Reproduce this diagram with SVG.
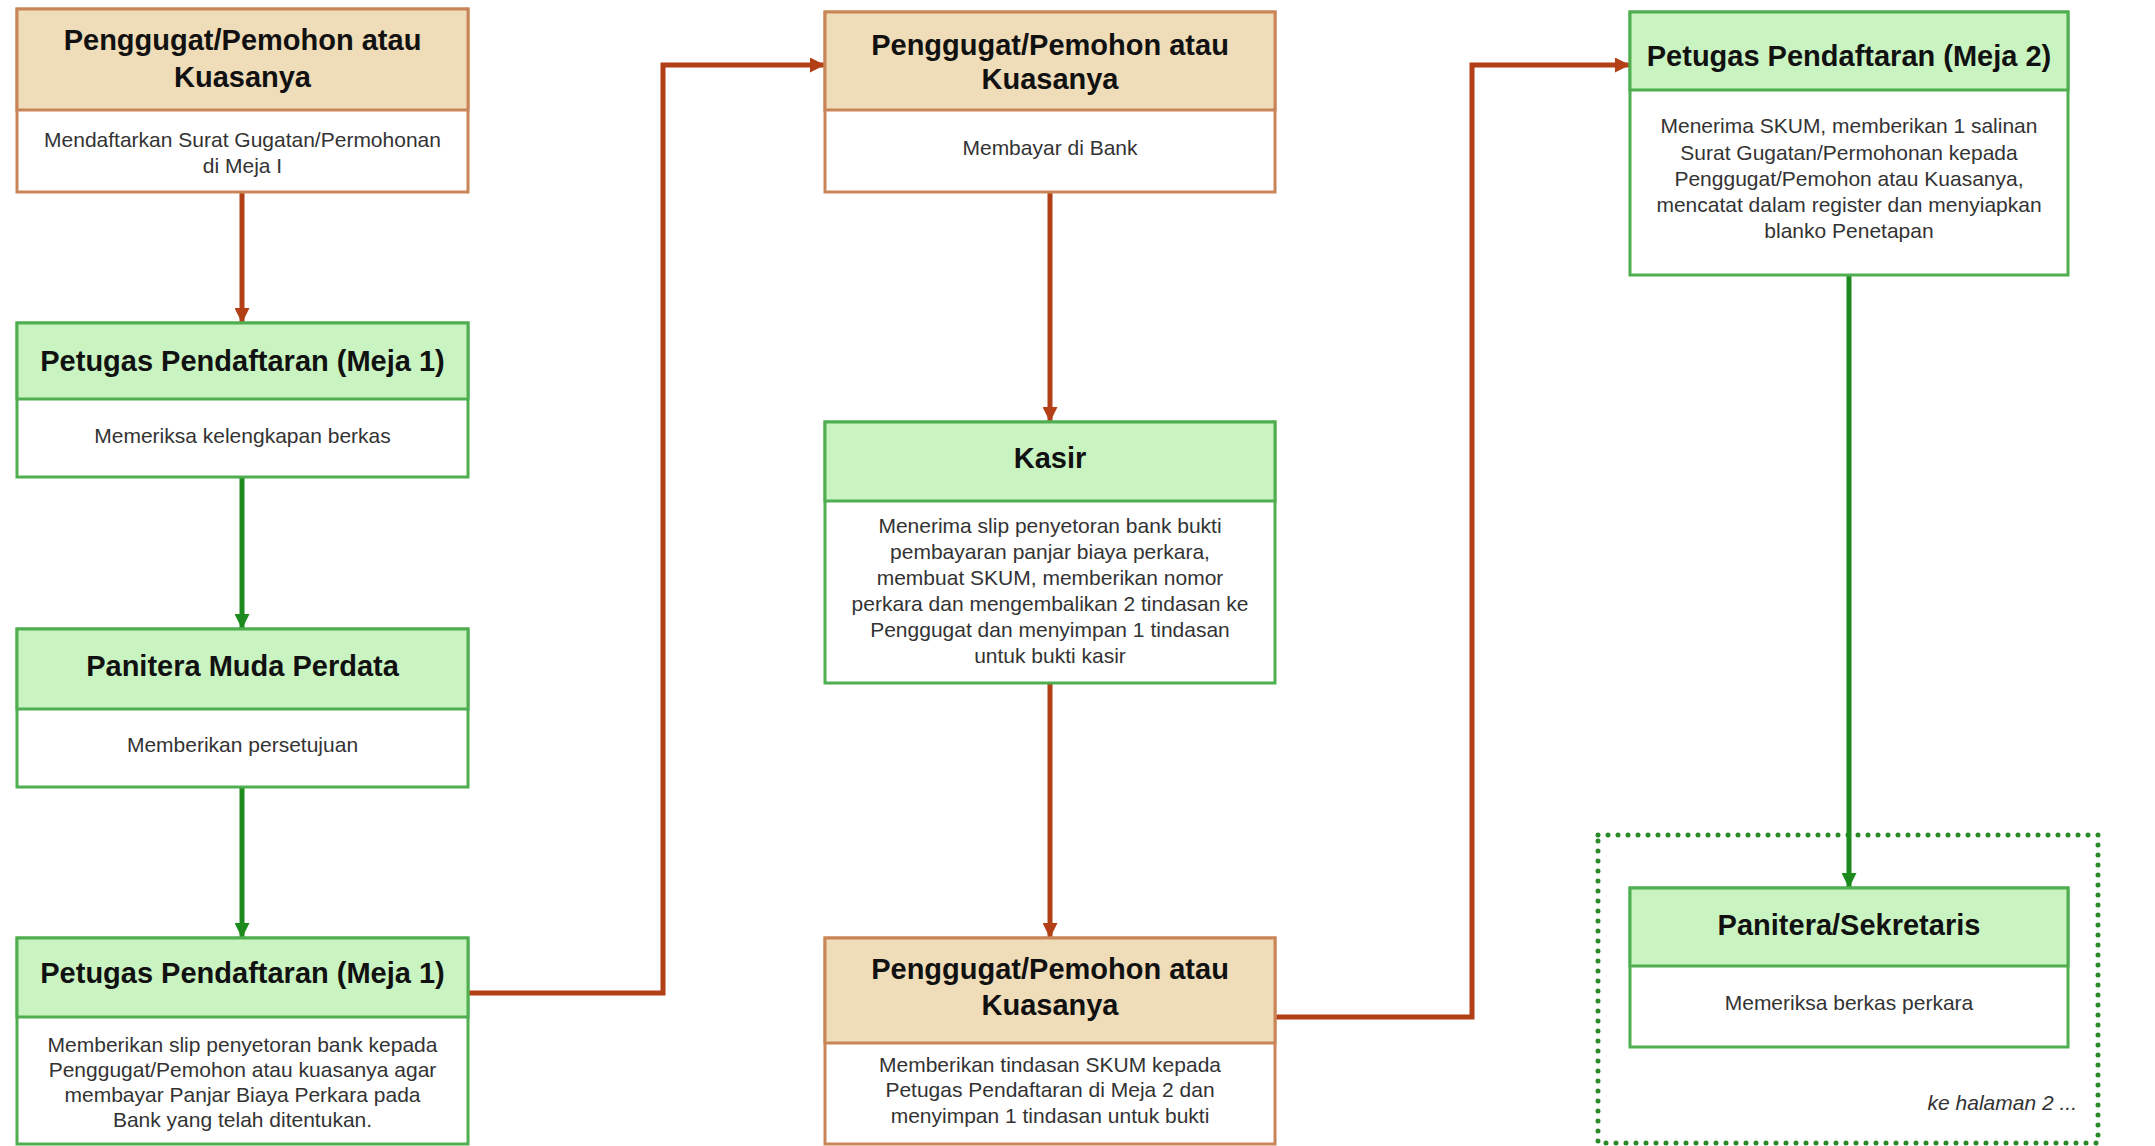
<svg xmlns="http://www.w3.org/2000/svg" width="2155" height="1146" viewBox="0 0 2155 1146">
<defs>
<style>
.bg{fill:#ffffff}
.tanHead{fill:#efdcb8;stroke:#c98558;stroke-width:3}
.tanBody{fill:#ffffff;stroke:#c98558;stroke-width:3}
.grnHead{fill:#c9f4c1;stroke:#4fae4f;stroke-width:3}
.grnBody{fill:#ffffff;stroke:#4fae4f;stroke-width:3}
.title{font-family:"Liberation Sans",Arial,sans-serif;font-weight:bold;font-size:29px;fill:#111111;text-anchor:middle}
.body{font-family:"Liberation Sans",Arial,sans-serif;font-size:21px;fill:#333333;text-anchor:middle}
.note{font-family:"Liberation Sans",Arial,sans-serif;font-size:21px;font-style:italic;fill:#333333;text-anchor:end}
.red{fill:none;stroke:#b23f16;stroke-width:5;marker-end:url(#ahRed)}
.green{fill:none;stroke:#1d8a1d;stroke-width:5;marker-end:url(#ahGreen)}
.dotted{fill:none;stroke:#2a8a2a;stroke-width:5;stroke-dasharray:0 10;stroke-linecap:round}
</style>
<marker id="ahRed" viewBox="0 0 10 10" refX="10" refY="5" markerWidth="3.2" markerHeight="3" orient="auto" markerUnits="strokeWidth">
<path d="M0,0 L10,5 L0,10 Z" fill="#b23f16"/>
</marker>
<marker id="ahGreen" viewBox="0 0 10 10" refX="10" refY="5" markerWidth="3.2" markerHeight="3" orient="auto" markerUnits="strokeWidth">
<path d="M0,0 L10,5 L0,10 Z" fill="#1d8a1d"/>
</marker>
</defs>
<rect class="bg" x="0" y="0" width="2155" height="1146"/>

<g id="page-continuation">
<rect class="dotted" x="1598" y="835" width="500" height="308"/>
<text class="note" x="2077" y="1110">ke halaman 2 ...</text>
</g>

<g id="connectors">
<path class="red" d="M242,192 L242,323"/>
<path class="green" d="M242,477 L242,629"/>
<path class="green" d="M242,787 L242,938"/>
<path class="red" d="M468,993 L663,993 L663,65 L825,65"/>
<path class="red" d="M1050,192 L1050,422"/>
<path class="red" d="M1050,683 L1050,938"/>
<path class="red" d="M1275,1017 L1472,1017 L1472,65 L1630,65"/>
<path class="green" d="M1849,275 L1849,888"/>
</g>

<g id="node-penggugat-1">
<rect class="tanBody" x="17" y="9" width="451" height="183"/>
<rect class="tanHead" x="17" y="9" width="451" height="101"/>
<text class="title" x="242.5" y="50">Penggugat/Pemohon atau</text>
<text class="title" x="242.5" y="87">Kuasanya</text>
<text class="body" x="242.5" y="147">Mendaftarkan Surat Gugatan/Permohonan</text>
<text class="body" x="242.5" y="173">di Meja I</text>
</g>

<g id="node-meja1-a">
<rect class="grnBody" x="17" y="323" width="451" height="154"/>
<rect class="grnHead" x="17" y="323" width="451" height="76"/>
<text class="title" x="242.5" y="371">Petugas Pendaftaran (Meja 1)</text>
<text class="body" x="242.5" y="443">Memeriksa kelengkapan berkas</text>
</g>

<g id="node-panitera-muda">
<rect class="grnBody" x="17" y="629" width="451" height="158"/>
<rect class="grnHead" x="17" y="629" width="451" height="80"/>
<text class="title" x="242.5" y="676">Panitera Muda Perdata</text>
<text class="body" x="242.5" y="752">Memberikan persetujuan</text>
</g>

<g id="node-meja1-b">
<rect class="grnBody" x="17" y="938" width="451" height="206"/>
<rect class="grnHead" x="17" y="938" width="451" height="79"/>
<text class="title" x="242.5" y="983">Petugas Pendaftaran (Meja 1)</text>
<text class="body" x="242.5" y="1052">Memberikan slip penyetoran bank kepada</text>
<text class="body" x="242.5" y="1077">Penggugat/Pemohon atau kuasanya agar</text>
<text class="body" x="242.5" y="1102">membayar Panjar Biaya Perkara pada</text>
<text class="body" x="242.5" y="1127">Bank yang telah ditentukan.</text>
</g>

<g id="node-penggugat-2">
<rect class="tanBody" x="825" y="12" width="450" height="180"/>
<rect class="tanHead" x="825" y="12" width="450" height="98"/>
<text class="title" x="1050" y="55">Penggugat/Pemohon atau</text>
<text class="title" x="1050" y="89">Kuasanya</text>
<text class="body" x="1050" y="155">Membayar di Bank</text>
</g>

<g id="node-kasir">
<rect class="grnBody" x="825" y="422" width="450" height="261"/>
<rect class="grnHead" x="825" y="422" width="450" height="79"/>
<text class="title" x="1050" y="468">Kasir</text>
<text class="body" x="1050" y="533">Menerima slip penyetoran bank bukti</text>
<text class="body" x="1050" y="559">pembayaran panjar biaya perkara,</text>
<text class="body" x="1050" y="585">membuat SKUM, memberikan nomor</text>
<text class="body" x="1050" y="611">perkara dan mengembalikan 2 tindasan ke</text>
<text class="body" x="1050" y="637">Penggugat dan menyimpan 1 tindasan</text>
<text class="body" x="1050" y="663">untuk bukti kasir</text>
</g>

<g id="node-penggugat-3">
<rect class="tanBody" x="825" y="938" width="450" height="206"/>
<rect class="tanHead" x="825" y="938" width="450" height="105"/>
<text class="title" x="1050" y="979">Penggugat/Pemohon atau</text>
<text class="title" x="1050" y="1015">Kuasanya</text>
<text class="body" x="1050" y="1072">Memberikan tindasan SKUM kepada</text>
<text class="body" x="1050" y="1097">Petugas Pendaftaran di Meja 2 dan</text>
<text class="body" x="1050" y="1123">menyimpan 1 tindasan untuk bukti</text>
</g>

<g id="node-meja2">
<rect class="grnBody" x="1630" y="12" width="438" height="263"/>
<rect class="grnHead" x="1630" y="12" width="438" height="78"/>
<text class="title" x="1849" y="66">Petugas Pendaftaran (Meja 2)</text>
<text class="body" x="1849" y="133">Menerima SKUM, memberikan 1 salinan</text>
<text class="body" x="1849" y="160">Surat Gugatan/Permohonan kepada</text>
<text class="body" x="1849" y="186">Penggugat/Pemohon atau Kuasanya,</text>
<text class="body" x="1849" y="212">mencatat dalam register dan menyiapkan</text>
<text class="body" x="1849" y="238">blanko Penetapan</text>
</g>

<g id="node-panitera-sekretaris">
<rect class="grnBody" x="1630" y="888" width="438" height="159"/>
<rect class="grnHead" x="1630" y="888" width="438" height="78"/>
<text class="title" x="1849" y="935">Panitera/Sekretaris</text>
<text class="body" x="1849" y="1010">Memeriksa berkas perkara</text>
</g>
</svg>
